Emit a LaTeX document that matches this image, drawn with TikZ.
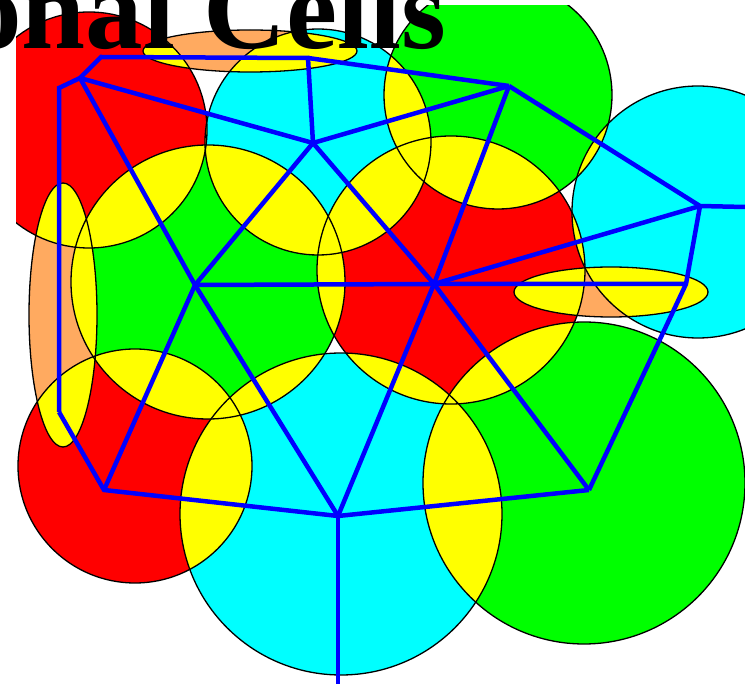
\documentclass[tikz,border=0pt]{standalone}
\usepackage{fontspec}
\newfontfamily\titlefont{Liberation Serif}
\definecolor{cred}{RGB}{255,0,0}
\definecolor{ccyan}{RGB}{0,255,255}
\definecolor{cgreen}{RGB}{0,255,0}
\definecolor{corange}{RGB}{255,170,96}
\definecolor{cyel}{RGB}{255,255,0}
\definecolor{cblue}{RGB}{0,0,255}
\tikzset{
  outline/.style={draw=black, line width=1.3pt},
  blueline/.style={draw=cblue, line width=4.5pt, line join=miter},
  titletext/.style={anchor=base west, inner sep=0pt, font=\titlefont\bfseries\fontsize{115}{115}\selectfont}
}
\def\cells{89/130/118/118/cred, 250/51/107/21/corange, 318/142/113/113/ccyan, 498/95/114/114/cgreen, 698/212/126/126/ccyan, 208/282/137/137/cgreen, 451/270/134/134/cred, 63/315/34/132/corange, 611/292/97/25/corange, 135/466/117/117/cred, 341/514/161/161/ccyan, 584/483/161/161/cgreen}
\begin{document}
\begin{tikzpicture}[x=1pt,y=-1pt]
\useasboundingbox (0,0) rectangle (745,684);
\begin{scope}
  \clip (16,6) rectangle (745,684);
  \foreach \cx/\cy/\rx/\ry/\col in \cells {
    \fill[fill=\col] (\cx,\cy) ellipse [x radius=\rx pt, y radius=\ry pt];
  }
  \foreach \ax/\ay/\arx/\ary/\acol [count=\i] in \cells {
    \foreach \bx/\by/\brx/\bry/\bcol [count=\j] in \cells {
      \ifnum\j>\i
        \begin{scope}
          \clip (\ax,\ay) ellipse [x radius=\arx pt, y radius=\ary pt];
          \fill[cyel] (\bx,\by) ellipse [x radius=\brx pt, y radius=\bry pt];
        \end{scope}
      \fi
    }
  }
  \foreach \cx/\cy/\rx/\ry/\col in \cells {
    \draw[outline] (\cx,\cy) ellipse [x radius=\rx pt, y radius=\ry pt];
  }
\end{scope}
% graph
\coordinate (p1) at (59,412);
\coordinate (p2) at (59,88);
\coordinate (p3) at (80,78);
\coordinate (p4) at (101,57);
\coordinate (p5) at (308,58);
\coordinate (p6) at (313,143);
\coordinate (p7) at (509,86);
\coordinate (p8) at (700,206);
\coordinate (p9) at (745,207);
\coordinate (p10) at (195,285);
\coordinate (p11) at (434,284);
\coordinate (p12) at (686,284);
\coordinate (p13) at (589,490);
\coordinate (p14) at (104,490);
\coordinate (p15) at (338,516);
\coordinate (p16) at (338,684);
\draw[blueline] (p1) -- (p2) -- (p3) -- (p4) -- (p5) -- (p6);
\draw[blueline] (p5) -- (p7);
\draw[blueline] (p3) -- (p6);
\draw[blueline] (p3) -- (p10);
\draw[blueline] (p6) -- (p7);
\draw[blueline] (p6) -- (p10);
\draw[blueline] (p6) -- (p11);
\draw[blueline] (p7) -- (p11);
\draw[blueline] (p7) -- (p8) -- (p9);
\draw[blueline] (p8) -- (p12) -- (p13);
\draw[blueline] (p11) -- (p8);
\draw[blueline] (p10) -- (p11) -- (p12);
\draw[blueline] (p11) -- (p15);
\draw[blueline] (p11) -- (p13);
\draw[blueline] (p10) -- (p14);
\draw[blueline] (p10) -- (p15);
\draw[blueline] (p1) -- (p14) -- (p15) -- (p13);
\draw[blueline] (p15) -- (p16);
\node[titletext] (title) at (-36,49) {onal Cells};
\end{tikzpicture}
\end{document}
